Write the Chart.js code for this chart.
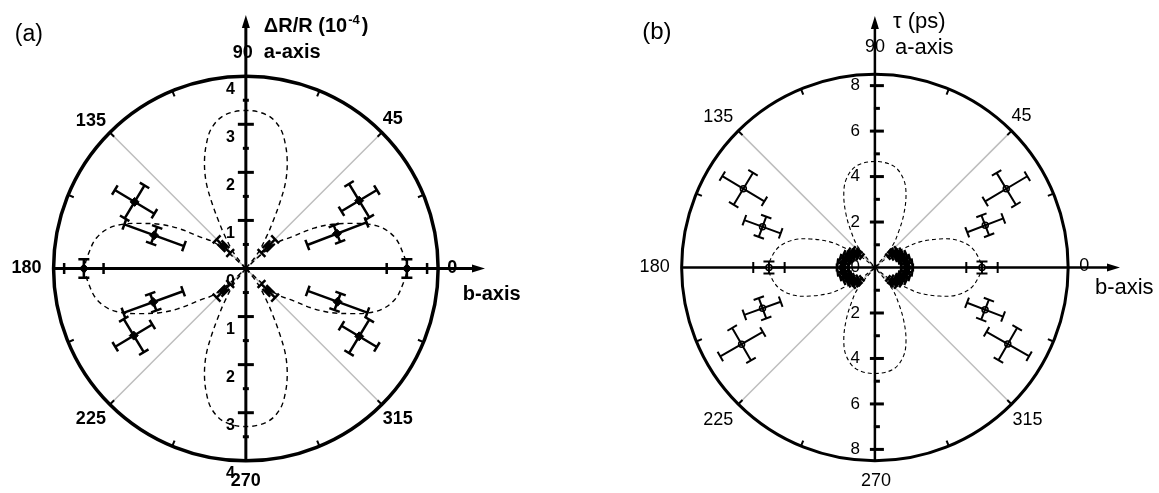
<!DOCTYPE html>
<html>
<head>
<meta charset="utf-8">
<title>Polar plots</title>
<script src="https://cdn.jsdelivr.net/npm/chart.js@4.4.1/dist/chart.umd.min.js"></script>
<style>
  body { margin: 0; background: #fff; }
  canvas { position: absolute; top: 0; }
</style>
</head>
<body>
<canvas id="chartA" width="580" height="493" style="left:0"></canvas>
<canvas id="chartB" width="579" height="493" style="left:580px"></canvas>
<script>
// ---------- panel (a): dR/R, polar angle in degrees ----------
var aAngle  = [0, 21, 31, 45, 135, 149, 160, 180, 200, 211, 225, 315, 329, 340];
var aValue  = [3.35, 2.03, 2.75, 0.66, 0.66, 2.70, 2.03, 3.37, 2.05, 2.72, 0.66, 0.66, 2.75, 2.03];
var aErrR   = [0.42, 0.66, 0.43, 0.2, 0.2, 0.48, 0.66, 0.41, 0.66, 0.45, 0.2, 0.2, 0.43, 0.66];
var aErrAng = [3.3, 5.2, 8.5, 5, 5, 8.5, 5.2, 3.3, 5.2, 8.5, 5, 5, 8.5, 5.2];

var aFitHAng = [0, 6.5, 11.7, 16.5, 20, 22.8, 27.2, 30.7, 35.2, 39.3, 42, 45];
var aFitHR   = [3.35, 3.27, 3.17, 2.97, 2.71, 2.43, 2.02, 1.65, 1.12, 0.88, 0.5, 0];
var aFitVAng = [0, 8, 13.6, 17.6, 21.4, 24.7, 27.2, 29.9, 32.4, 38, 45];
var aFitVR   = [3.3, 3.23, 3.02, 2.72, 2.36, 1.97, 1.55, 1.13, 0.84, 0.4, 0];

var aTickLabels = ['4', '3', '2', '1', '0', '1', '2', '3', '4'];
var aTickValues = [4, 3, 2, 1, 0, -1, -2, -3, -4];

// ---------- panel (b): tau (ps) ----------
var bAngle  = [0, 21, 31, 149, 160, 180, 200, 210, 330, 339];
var bValue  = [4.71, 5.2, 6.74, 6.75, 5.26, 4.66, 5.26, 6.77, 6.75, 5.19];
var bErrR   = [0.69, 0.85, 1.08, 1.08, 0.85, 0.69, 0.85, 1.08, 1.08, 0.85];
var bErrAng = [3.2, 5.2, 7, 7, 5.2, 3.2, 5.2, 7, 7, 5.2];

// dense short-time points near the centre
var bFastAngle = [0, 8, 16, 24, 32, 40, -8, -16, -24, -32, -40, 180, 172, 164, 156, 148, 140, 188, 196, 204, 212, 220];
var bFastValue = [1.42, 1.4, 1.33, 1.24, 1.12, 1.0, 1.4, 1.33, 1.24, 1.12, 1.0, 1.42, 1.4, 1.33, 1.24, 1.12, 1.0, 1.4, 1.33, 1.24, 1.12, 1.0];
var bFastErrR   = [0.25, 0.25, 0.25, 0.25, 0.25, 0.25, 0.25, 0.25, 0.25, 0.25, 0.25, 0.25, 0.25, 0.25, 0.25, 0.25, 0.25, 0.25, 0.25, 0.25, 0.25, 0.25];
var bFastErrAng = [8, 8, 8, 8, 8, 8, 8, 8, 8, 8, 8, 8, 8, 8, 8, 8, 8, 8, 8, 8, 8, 8];

var bFitHAng = [0, 5.4, 12.5, 19.1, 23.9, 29.8, 33, 38, 45];
var bFitHR   = [4.68, 4.58, 4.3, 3.75, 3.11, 2.28, 1.6, 0.9, 0];
var bFitVAng = [0, 10.5, 18, 23.3, 28.6, 33.3, 38.8, 45];
var bFitVR   = [4.68, 4.55, 4.09, 3.46, 2.64, 1.91, 1.22, 0];

var bTickLabels = ['8', '6', '4', '2', '0', '2', '4', '6', '8'];
var bTickValues = [8, 6, 4, 2, 0, -2, -4, -6, -8];

// ---------- helpers ----------
function rad(d) { return d * Math.PI / 180; }

function polarPoints(angles, values) {
    return angles.map(function (a, i) {
        return { x: values[i] * Math.cos(rad(a)), y: values[i] * Math.sin(rad(a)) };
    });
}

// full closed lobe from a half-lobe reading, rotated onto its axis
function lobe(offsets, radii, axis) {
    var angs = [], vals = [];
    for (var i = offsets.length - 1; i >= 0; i--) { angs.push(axis - offsets[i]); vals.push(radii[i]); }
    for (var j = 1; j < offsets.length; j++) { angs.push(axis + offsets[j]); vals.push(radii[j]); }
    return polarPoints(angs, vals);
}

function px(chart, x, y) {
    return [chart.scales.x.getPixelForValue(x), chart.scales.y.getPixelForValue(y)];
}

function bar(ctx, p1, p2, cap) {
    var dx = p2[0] - p1[0], dy = p2[1] - p1[1], len = Math.sqrt(dx * dx + dy * dy) || 1;
    var nx = -dy / len * cap, ny = dx / len * cap;
    ctx.beginPath();
    ctx.moveTo(p1[0], p1[1]); ctx.lineTo(p2[0], p2[1]);
    ctx.moveTo(p1[0] - nx, p1[1] - ny); ctx.lineTo(p1[0] + nx, p1[1] + ny);
    ctx.moveTo(p2[0] - nx, p2[1] - ny); ctx.lineTo(p2[0] + nx, p2[1] + ny);
    ctx.stroke();
}

function drawErrors(chart, angs, vals, errR, errA, cap, width) {
    var ctx = chart.ctx;
    ctx.save();
    ctx.strokeStyle = '#000';
    ctx.lineWidth = width;
    for (var i = 0; i < angs.length; i++) {
        var t = rad(angs[i]), r = vals[i], ux = Math.cos(t), uy = Math.sin(t);
        var r1 = r - errR[i], r2 = r + errR[i];
        bar(ctx, px(chart, r1 * ux, r1 * uy), px(chart, r2 * ux, r2 * uy), cap);
        var h = r * rad(errA[i]);
        bar(ctx, px(chart, r * ux + h * uy, r * uy - h * ux), px(chart, r * ux - h * uy, r * uy + h * ux), cap);
    }
    ctx.restore();
}

function arrow(ctx, x, y, dir) {
    ctx.beginPath();
    if (dir === 'up') { ctx.moveTo(x, y); ctx.lineTo(x - 4, y + 13); ctx.lineTo(x + 4, y + 13); }
    else { ctx.moveTo(x, y); ctx.lineTo(x - 13, y - 4); ctx.lineTo(x - 13, y + 4); }
    ctx.closePath();
    ctx.fill();
}

// circle, axes, ticks and labels of a polar frame
function polarFrame(o) {
    return {
        id: 'polarFrame',
        beforeDatasetsDraw: function (chart) {
            var ctx = chart.ctx;
            var c = px(chart, 0, 0);
            var R = chart.scales.x.getPixelForValue(o.rMax) - c[0];
            ctx.save();
            ctx.lineCap = 'butt';

            // grey diagonals
            ctx.strokeStyle = '#bdbdbd';
            ctx.lineWidth = 1.5;
            [45, 135, 225, 315].forEach(function (d) {
                ctx.beginPath();
                ctx.moveTo(c[0], c[1]);
                ctx.lineTo(c[0] + R * Math.cos(rad(d)), c[1] - R * Math.sin(rad(d)));
                ctx.stroke();
            });

            // outer circle with angular ticks
            ctx.strokeStyle = '#000';
            ctx.fillStyle = '#000';
            ctx.lineWidth = o.circleWidth;
            ctx.beginPath();
            ctx.arc(c[0], c[1], R, 0, 2 * Math.PI);
            ctx.stroke();
            ctx.lineWidth = 2;
            for (var d = 22.5; d < 360; d += 22.5) {
                if (d % 90 === 0) continue;
                var cs = Math.cos(rad(d)), sn = Math.sin(rad(d));
                ctx.beginPath();
                ctx.moveTo(c[0] + R * cs, c[1] - R * sn);
                ctx.lineTo(c[0] + (R - 6) * cs, c[1] - (R - 6) * sn);
                ctx.stroke();
            }

            // axes
            ctx.lineWidth = o.axisWidth;
            ctx.beginPath();
            ctx.moveTo(c[0] - R, c[1]); ctx.lineTo(o.arrowX - 6, c[1]);
            ctx.moveTo(c[0], c[1] + R); ctx.lineTo(c[0], o.arrowY + 6);
            ctx.stroke();
            arrow(ctx, o.arrowX, c[1], 'right');
            arrow(ctx, c[0], o.arrowY, 'up');

            // radial ticks on the vertical axis
            var unit = R / o.rMax;
            ctx.lineWidth = 3;
            o.major.forEach(function (v) {
                var y = c[1] - v * unit;
                ctx.beginPath(); ctx.moveTo(c[0] + o.majorL, y); ctx.lineTo(c[0] + o.majorR, y); ctx.stroke();
            });
            o.minor.forEach(function (v) {
                var y = c[1] - v * unit;
                ctx.beginPath(); ctx.moveTo(c[0] + o.minorL, y); ctx.lineTo(c[0] + o.minorR, y); ctx.stroke();
            });

            // radial tick labels
            ctx.font = o.tickFont;
            ctx.textAlign = 'right';
            ctx.textBaseline = 'middle';
            o.tickValues.forEach(function (v, i) {
                ctx.fillText(o.tickLabels[i], c[0] + o.tickDx, c[1] - v * unit + o.tickDy);
            });

            // angle labels
            ctx.font = o.angleFont;
            ctx.textAlign = 'center';
            o.angleLabels.forEach(function (l) {
                var x = c[0] + R * Math.cos(rad(l[0])) + l[1];
                var y = c[1] - R * Math.sin(rad(l[0])) + l[2];
                ctx.fillText(String(l[0]), x, y);
            });

            // titles
            ctx.textAlign = 'left';
            o.texts.forEach(function (t) {
                ctx.font = t.font;
                ctx.textAlign = t.align || 'left';
                ctx.fillText(t.text, c[0] + t.dx, c[1] + t.dy);
                if (t.sup) {
                    var w = ctx.measureText(t.text).width;
                    ctx.font = t.supFont;
                    ctx.textAlign = 'left';
                    ctx.fillText(t.sup, c[0] + t.dx + w + 1, c[1] + t.dy - 6);
                    var w2 = ctx.measureText(t.sup).width;
                    ctx.font = t.font;
                    ctx.fillText(t.after, c[0] + t.dx + w + w2 + 3, c[1] + t.dy);
                }
            });
            ctx.restore();
        },
        afterDatasetsDraw: function (chart) {
            o.errors.forEach(function (e) {
                drawErrors(chart, e.angle, e.value, e.errR, e.errAng, e.cap, e.width);
            });
        }
    };
}

function lobeDataset(points, dash, width) {
    return {
        data: points, showLine: true, fill: false, pointRadius: 0,
        borderColor: '#000', borderWidth: width, borderDash: dash, tension: 0.35
    };
}

var baseOptions = function (xmin, xmax, ymin, ymax) {
    return {
        responsive: false,
        animation: false,
        events: [],
        layout: { padding: 0 },
        plugins: { legend: { display: false }, tooltip: { enabled: false } },
        scales: {
            x: { type: 'linear', display: false, min: xmin, max: xmax },
            y: { type: 'linear', display: false, min: ymin, max: ymax }
        }
    };
};

var fontA = '"Liberation Sans", Arial, sans-serif';

// ---------- chart (a) ----------
new Chart(document.getElementById('chartA').getContext('2d'), {
    type: 'scatter',
    data: {
        datasets: [
            lobeDataset(lobe(aFitHAng, aFitHR, 0), [5, 4], 1.4),
            lobeDataset(lobe(aFitHAng, aFitHR, 180), [5, 4], 1.4),
            lobeDataset(lobe(aFitVAng, aFitVR, 90), [5, 4], 1.4),
            lobeDataset(lobe(aFitVAng, aFitVR, 270), [5, 4], 1.4),
            {
                data: polarPoints(aAngle, aValue), pointStyle: 'rectRot', pointRadius: 4.5,
                backgroundColor: '#000', borderColor: '#000', showLine: false
            }
        ]
    },
    options: baseOptions(-5, 335 / 49, -224 / 49, 269 / 49),
    plugins: [polarFrame({
        rMax: 4, circleWidth: 3.5, axisWidth: 3, arrowX: 485, arrowY: 15,
        major: [1, 2, 3, -1, -2, -3], minor: [0.5, 1.5, 2.5, 3.5, -0.5, -1.5, -2.5, -3.5],
        majorL: -8, majorR: 8, minorL: -3, minorR: 3,
        tickValues: aTickValues, tickLabels: aTickLabels, tickDx: -11, tickDy: 13,
        tickFont: 'bold 16px ' + fontA, angleFont: 'bold 18px ' + fontA,
        angleLabels: [[0, 14, 0], [45, 11, -14], [90, -3, -23], [135, -19, -12],
                      [180, -27, 0], [225, -19, 15], [270, 0, 20], [315, 16, 15]],
        texts: [
            { text: '(a)', font: '23px ' + fontA, dx: -217, dy: -234, align: 'center' },
            { text: '\u0394R/R (10', font: 'bold 20px ' + fontA, dx: 18, dy: -242,
              sup: '-4', supFont: 'bold 13px ' + fontA, after: ')' },
            { text: 'a-axis', font: 'bold 20px ' + fontA, dx: 18, dy: -216 },
            { text: 'b-axis', font: 'bold 20px ' + fontA, dx: 217, dy: 26 }
        ],
        errors: [{ angle: aAngle, value: aValue, errR: aErrR, errAng: aErrAng, cap: 5.5, width: 2.5 }]
    })]
});

// ---------- chart (b) ----------
var unitB = 197 / 8.5;
new Chart(document.getElementById('chartB').getContext('2d'), {
    type: 'scatter',
    data: {
        datasets: [
            lobeDataset(lobe(bFitHAng, bFitHR, 0), [4, 3], 1.1),
            lobeDataset(lobe(bFitHAng, bFitHR, 180), [4, 3], 1.1),
            lobeDataset(lobe(bFitVAng, bFitVR, 90), [4, 3], 1.1),
            lobeDataset(lobe(bFitVAng, bFitVR, 270), [4, 3], 1.1),
            {
                data: polarPoints(bFastAngle, bFastValue), pointStyle: 'circle', pointRadius: 3.5,
                backgroundColor: '#000', borderColor: '#000', showLine: false
            },
            {
                data: polarPoints(bAngle, bValue), pointStyle: 'circle', pointRadius: 3,
                backgroundColor: '#fff', borderColor: '#000', borderWidth: 1.5, showLine: false
            }
        ]
    },
    options: baseOptions(-295 / unitB, 284 / unitB, -225 / unitB, 268 / unitB),
    plugins: [polarFrame({
        rMax: 8.5, circleWidth: 3, axisWidth: 2.5, arrowX: 540, arrowY: 16,
        major: [2, 4, 6, 8, -2, -4, -6, -8], minor: [1, 3, 5, 7, -1, -3, -5, -7],
        majorL: -5, majorR: 9, minorL: -1, minorR: 5,
        tickValues: bTickValues, tickLabels: bTickLabels, tickDx: -15, tickDy: 0,
        tickFont: '17px ' + fontA, angleFont: '18px ' + fontA,
        angleLabels: [[0, 16, -1], [45, 10, -15], [90, 0, -27], [135, -20, -14],
                      [180, -27, 0], [225, -20, 16], [270, 1, 20], [315, 16, 16]],
        texts: [
            { text: '(b)', font: '24px ' + fontA, dx: -218, dy: -235, align: 'center' },
            { text: '\u03C4 (ps)', font: '22px ' + fontA, dx: 18, dy: -246 },
            { text: 'a-axis', font: '22px ' + fontA, dx: 20, dy: -220 },
            { text: 'b-axis', font: '22px ' + fontA, dx: 220, dy: 20 }
        ],
        errors: [
            { angle: bFastAngle, value: bFastValue, errR: bFastErrR, errAng: bFastErrAng, cap: 4, width: 2.5 },
            { angle: bAngle, value: bValue, errR: bErrR, errAng: bErrAng, cap: 5.5, width: 2 }
        ]
    })]
});
</script>
</body>
</html>
